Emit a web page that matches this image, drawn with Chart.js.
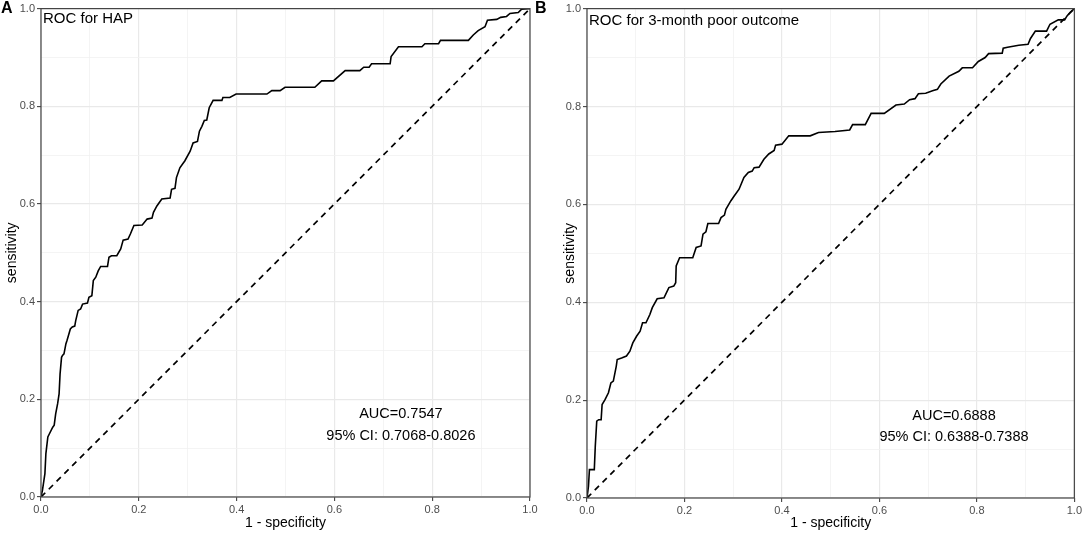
<!DOCTYPE html>
<html>
<head>
<meta charset="utf-8">
<script src="https://cdn.jsdelivr.net/npm/chart.js@4.4.1/dist/chart.umd.min.js"></script>
<style>
  html, body { margin: 0; padding: 0; background: #fff; }
  #wrap { position: relative; width: 1084px; height: 534px; overflow: hidden; }
  .panel { position: absolute; top: 0; width: 542px; height: 534px; }
  .letter { position: absolute; top: 0; font: bold 16px "Liberation Sans", Arial, sans-serif; line-height: 1; color: #000; }
</style>
</head>
<body>
<div id="wrap">
  <div class="panel" style="left:0"><canvas id="rocHap"></canvas></div>
  <div class="panel" style="left:542px"><canvas id="rocPoor"></canvas></div>
  <div class="letter" style="left:1px">A</div>
  <div class="letter" style="left:535px">B</div>
</div>
<script>
// ROC for HAP: 1 - specificity / sensitivity
const hapFpr = [0, 0.003, 0.008, 0.010, 0.014, 0.017, 0.024, 0.027, 0.030, 0.034, 0.037, 0.039, 0.042, 0.044, 0.047,
  0.051, 0.053, 0.056, 0.060, 0.064, 0.069, 0.071, 0.076, 0.081, 0.085, 0.095, 0.098, 0.104, 0.107, 0.112, 0.117,
  0.122, 0.136, 0.139, 0.144, 0.155, 0.163, 0.168, 0.178, 0.183, 0.190, 0.207, 0.217, 0.227, 0.230, 0.237, 0.247,
  0.264, 0.267, 0.274, 0.277, 0.284, 0.291, 0.294, 0.305, 0.311, 0.320, 0.324, 0.329, 0.334, 0.339, 0.344, 0.352,
  0.370, 0.372, 0.386, 0.399, 0.462, 0.472, 0.489, 0.499, 0.560, 0.574, 0.598, 0.622, 0.652, 0.660, 0.671, 0.676,
  0.714, 0.716, 0.731, 0.779, 0.785, 0.813, 0.817, 0.874, 0.884, 0.894, 0.908, 0.913, 0.932, 0.940, 0.952, 0.959,
  0.976, 0.983, 0.996, 1.0];
const hapTpr = [0, 0.014, 0.048, 0.089, 0.123, 0.129, 0.143, 0.147, 0.170, 0.191, 0.211, 0.252, 0.286, 0.290, 0.293,
  0.314, 0.320, 0.330, 0.344, 0.348, 0.350, 0.361, 0.382, 0.385, 0.395, 0.397, 0.409, 0.412, 0.443, 0.450, 0.463,
  0.472, 0.472, 0.491, 0.494, 0.494, 0.508, 0.526, 0.528, 0.539, 0.556, 0.557, 0.569, 0.571, 0.583, 0.596, 0.610,
  0.612, 0.630, 0.632, 0.654, 0.674, 0.684, 0.688, 0.708, 0.725, 0.728, 0.749, 0.759, 0.771, 0.772, 0.797, 0.812,
  0.812, 0.818, 0.818, 0.825, 0.825, 0.832, 0.832, 0.839, 0.839, 0.852, 0.852, 0.873, 0.873, 0.880, 0.880, 0.887,
  0.887, 0.902, 0.922, 0.922, 0.928, 0.928, 0.935, 0.935, 0.946, 0.955, 0.963, 0.976, 0.978, 0.982, 0.984, 0.990,
  0.992, 0.999, 1.0, 1.0];

// ROC for 3-month poor outcome
const poorFpr = [0, 0.003, 0.005, 0.015, 0.017, 0.020, 0.024, 0.029, 0.031, 0.037, 0.044, 0.049, 0.054, 0.060, 0.062,
  0.071, 0.081, 0.088, 0.094, 0.102, 0.109, 0.114, 0.121, 0.129, 0.134, 0.144, 0.158, 0.168, 0.178, 0.182, 0.183,
  0.190, 0.217, 0.224, 0.234, 0.238, 0.244, 0.248, 0.270, 0.275, 0.282, 0.285, 0.295, 0.302, 0.312, 0.322, 0.331,
  0.339, 0.343, 0.353, 0.363, 0.373, 0.384, 0.387, 0.400, 0.414, 0.458, 0.475, 0.509, 0.539, 0.545, 0.571, 0.583,
  0.610, 0.634, 0.651, 0.662, 0.673, 0.680, 0.695, 0.709, 0.719, 0.726, 0.743, 0.763, 0.770, 0.791, 0.803, 0.817,
  0.824, 0.852, 0.854, 0.863, 0.886, 0.905, 0.910, 0.920, 0.943, 0.950, 0.967, 0.980, 0.985, 0.992, 1.0];
const poorTpr = [0, 0.024, 0.058, 0.058, 0.106, 0.157, 0.160, 0.160, 0.191, 0.201, 0.215, 0.235, 0.239, 0.269, 0.283,
  0.286, 0.290, 0.300, 0.317, 0.331, 0.341, 0.358, 0.358, 0.375, 0.389, 0.407, 0.409, 0.430, 0.433, 0.440, 0.474,
  0.491, 0.491, 0.512, 0.515, 0.539, 0.544, 0.561, 0.561, 0.573, 0.578, 0.590, 0.607, 0.617, 0.631, 0.655, 0.665,
  0.668, 0.675, 0.676, 0.692, 0.703, 0.710, 0.721, 0.723, 0.740, 0.740, 0.747, 0.749, 0.752, 0.763, 0.763, 0.786,
  0.786, 0.803, 0.805, 0.814, 0.816, 0.826, 0.827, 0.832, 0.835, 0.846, 0.862, 0.872, 0.879, 0.879, 0.892, 0.900,
  0.908, 0.909, 0.919, 0.921, 0.925, 0.927, 0.939, 0.954, 0.954, 0.968, 0.977, 0.977, 0.985, 0.993, 1.0];

const refLine = [0, 1];
const tickValues = [0, 0.2, 0.4, 0.6, 0.8, 1.0];

const FONT = '"Liberation Sans", Arial, Helvetica, sans-serif';

function toPoints(xs, ys) {
  return xs.map((x, i) => ({ x: x, y: ys[i] }));
}

function isMajor(v) {
  return tickValues.some(t => Math.abs(t - v) < 1e-6);
}

// border around the panel + text labels inside the plot
const panelText = {
  id: 'panelText',
  afterDraw(chart, args, opts) {
    const { ctx, chartArea: a, scales } = chart;
    ctx.save();
    ctx.strokeStyle = '#444';
    ctx.lineWidth = 1.2;
    ctx.strokeRect(a.left, a.top, a.right - a.left, a.bottom - a.top);

    ctx.fillStyle = '#000';
    ctx.font = '15px ' + FONT;
    ctx.textAlign = 'left';
    ctx.textBaseline = 'alphabetic';
    ctx.fillText(opts.title, a.left + 2, a.top + opts.titleDy);

    ctx.font = '14.5px ' + FONT;
    ctx.textAlign = 'center';
    ctx.textBaseline = 'middle';
    const x = scales.x.getPixelForValue(opts.noteX);
    ctx.fillText(opts.auc, x, scales.y.getPixelForValue(opts.noteY1));
    ctx.fillText(opts.ci, x, scales.y.getPixelForValue(opts.noteY2));
    ctx.restore();
  }
};

function axis(titleText, fitSize, horizontal) {
  return {
    type: 'linear',
    min: 0,
    max: 1,
    border: { display: false },
    grid: {
      color: c => isMajor(c.tick.value) ? '#e9e9e9' : '#f1f1f1',
      lineWidth: c => isMajor(c.tick.value) ? 1.2 : 0.8,
      drawTicks: true,
      tickLength: 4,
      tickWidth: 1.1,
      tickColor: c => isMajor(c.tick.value) ? '#444' : 'rgba(0,0,0,0)'
    },
    ticks: {
      stepSize: 0.1,
      maxRotation: 0,
      autoSkip: false,
      padding: 2,
      color: '#4d4d4d',
      font: { family: FONT, size: 11 },
      callback: v => isMajor(v) ? v.toFixed(1) : ''
    },
    title: {
      display: true,
      text: titleText,
      color: '#000',
      font: { family: FONT, size: 14 },
      padding: horizontal ? { top: 0, bottom: 2 } : { top: 4, bottom: 0 }
    },
    afterFit: s => {
      if (horizontal) s.height = fitSize; else s.width = fitSize;
    }
  };
}

function makeRoc(canvasId, fpr, tpr, pad, yWidth, xHeight, text) {
  const ctx = document.getElementById(canvasId).getContext('2d');
  return new Chart(ctx, {
    type: 'scatter',
    data: {
      datasets: [
        {
          label: 'reference',
          data: toPoints(refLine, refLine),
          showLine: true,
          borderColor: '#000',
          borderWidth: 1.7,
          borderDash: [6, 5],
          pointRadius: 0
        },
        {
          label: 'ROC',
          data: toPoints(fpr, tpr),
          showLine: true,
          borderColor: '#000',
          borderWidth: 1.6,
          pointRadius: 0,
          tension: 0
        }
      ]
    },
    options: {
      responsive: true,
      maintainAspectRatio: false,
      animation: false,
      layout: { padding: pad },
      plugins: {
        legend: { display: false },
        tooltip: { enabled: false },
        panelText: text
      },
      scales: {
        x: axis('1 - specificity', xHeight, true),
        y: axis('sensitivity', yWidth, false)
      }
    },
    plugins: [panelText]
  });
}

makeRoc('rocHap', hapFpr, hapTpr, { top: 7, right: 12, bottom: 0, left: 0 }, 41, 37, {
  title: 'ROC for HAP', titleDy: 14,
  auc: 'AUC=0.7547', ci: '95% CI: 0.7068-0.8026',
  noteX: 0.736, noteY1: 0.169, noteY2: 0.124
});

makeRoc('rocPoor', poorFpr, poorTpr, { top: 8, right: 9, bottom: 0, left: 16 }, 29, 36, {
  title: 'ROC for 3-month poor outcome', titleDy: 16,
  auc: 'AUC=0.6888', ci: '95% CI: 0.6388-0.7388',
  noteX: 0.753, noteY1: 0.168, noteY2: 0.124
});
</script>
</body>
</html>
